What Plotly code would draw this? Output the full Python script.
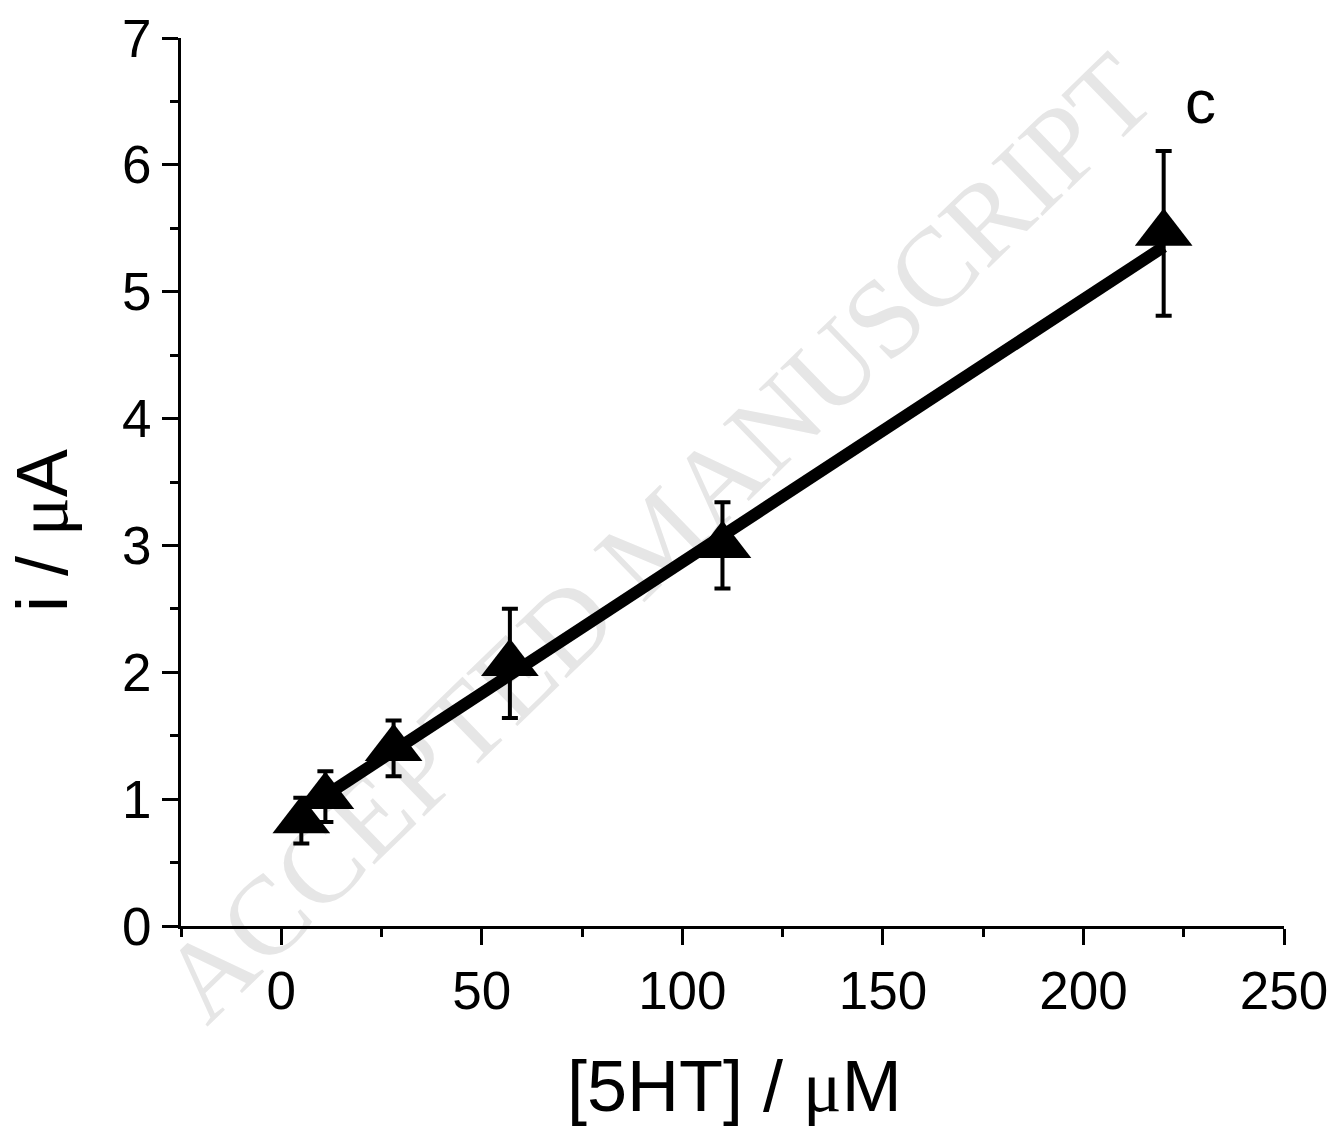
import numpy as np
import plotly.graph_objects as go

# ---- data ----
conc = [5, 11, 28, 57, 110, 220]            # [5HT] / µM
current = [0.83, 1.02, 1.40, 2.07, 3.00, 5.46]  # i / µA
current_err = [0.18, 0.20, 0.22, 0.43, 0.34, 0.65]
fit_slope = 0.0207
fit_intercept = 0.80
x_ticks = [0, 50, 100, 150, 200, 250]
y_ticks = [0, 1, 2, 3, 4, 5, 6, 7]

FONT = "Liberation Sans, Arial, sans-serif"
MU = '<span style="font-family:Liberation Serif, serif">μ</span>'

fit_x = np.array([conc[1], conc[-1]], dtype=float)
fit_y = fit_intercept + fit_slope * fit_x

fig = go.Figure()
fig.add_trace(go.Scatter(
    x=fit_x, y=fit_y, mode="lines",
    line=dict(color="black", width=12),
    showlegend=False, hoverinfo="skip"))
fig.add_trace(go.Scatter(
    x=conc, y=current, mode="markers",
    marker=dict(symbol="triangle-up", size=50, color="black", line=dict(width=0)),
    error_y=dict(type="data", array=current_err, visible=True,
                 color="black", thickness=4, width=8),
    showlegend=False, cliponaxis=False))

axis_common = dict(
    showline=True, linecolor="black", linewidth=3,
    ticks="outside", ticklen=16, tickwidth=3, tickcolor="black",
    showgrid=False, zeroline=False, mirror=False, automargin=False,
    tickfont=dict(family=FONT, size=53, color="black"),
)

fig.update_xaxes(
    range=[-25, 250], tickvals=x_ticks,
    minor=dict(ticks="outside", ticklen=8, tickwidth=3, tickcolor="black",
               dtick=25, tick0=-25, showgrid=False),
    **axis_common)
fig.update_yaxes(
    range=[0, 7], tickvals=y_ticks,
    minor=dict(ticks="outside", ticklen=8, tickwidth=3, tickcolor="black",
               dtick=0.5, tick0=0, showgrid=False),
    **axis_common)

# axis titles
fig.add_annotation(
    text=f"[5HT] / {MU}M", xref="paper", yref="paper", x=0.5014, y=-0.1813,
    showarrow=False, xanchor="center", yanchor="middle",
    font=dict(family=FONT, size=72, color="black"))
fig.add_annotation(
    text=f"i / {MU}A", xref="paper", yref="paper", x=-0.125, y=0.445,
    showarrow=False, xanchor="center", yanchor="middle", textangle=-90,
    font=dict(family=FONT, size=72, color="black"))

# watermark (behind data)
fig.add_shape(
    type="line", xref="paper", yref="paper",
    x0=-0.02, y0=-0.19, x1=0.95, y1=0.98,
    line=dict(color="rgba(0,0,0,0)", width=0), layer="below",
    label=dict(text="ACCEPTED MANUSCRIPT", textposition="middle",
               font=dict(family="Liberation Serif, serif", size=112, color="#e6e6e6")))

fig.add_annotation(
    text="c", xref="paper", yref="paper", x=0.9239, y=0.929,
    showarrow=False, xanchor="center", yanchor="middle",
    font=dict(family=FONT, size=62, color="black"))

fig.update_layout(
    width=1333, height=1134,
    margin=dict(l=181, r=49, t=38, b=208),
    paper_bgcolor="white", plot_bgcolor="white",
    showlegend=False)

fig.write_html("out.html")
